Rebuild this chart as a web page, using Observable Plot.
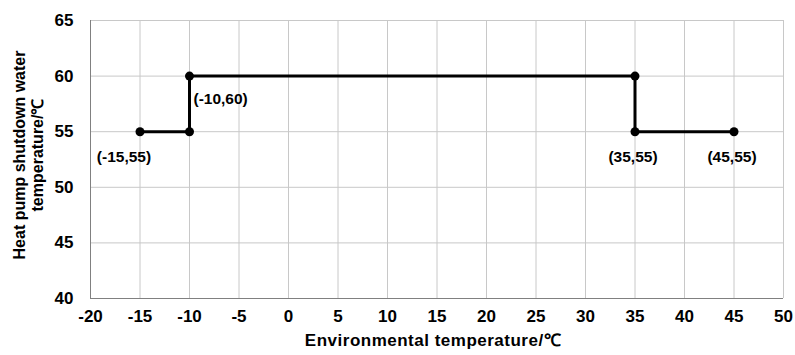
<!DOCTYPE html>
<html><head><meta charset="utf-8">
<script src="https://cdn.jsdelivr.net/npm/d3@7"></script>
<script src="https://cdn.jsdelivr.net/npm/@observablehq/plot@0.6"></script>
<style>
body{margin:0;background:#fff;}
#chart{width:795px;height:355px;}
svg{font-family:"Liberation Sans",Arial,sans-serif;}
</style></head>
<body><div id="chart"></div>
<script>
const envTemp = [-15, -10, -10, 35, 35, 45];
const shutdownTemp = [55, 55, 60, 60, 55, 55];
const labelPoints = ["(-15,55)", "(-10,60)", "(35,55)", "(45,55)"];
const labelX = [-15, -10, 35, 45];
const labelY = [55, 60, 55, 55];
const xTicks = [-20, -15, -10, -5, 0, 5, 10, 15, 20, 25, 30, 35, 40, 45, 50];
const yTicks = [40, 45, 50, 55, 60, 65];

const line = envTemp.map((x, i) => ({x, y: shutdownTemp[i]}));
const labels = labelPoints.map((t, i) => ({t, x: labelX[i], y: labelY[i]}));
const firstLabel = labels.filter(d => d.x === -15);
const topLabel = labels.filter(d => d.x === -10);
const rightLabels = labels.filter(d => d.x > 0);
const fmt = d => String(d);

const chart = Plot.plot({
  width: 795, height: 355,
  marginLeft: 90, marginRight: 12, marginTop: 20, marginBottom: 57,
  x: {domain: [-20, 50], label: null},
  y: {domain: [40, 65], label: null},
  style: {fontFamily: "Liberation Sans, Arial, sans-serif", color: "#000", background: "#fff"},
  marks: [
    Plot.ruleX(xTicks, {stroke: "#c8c8c8", strokeWidth: 1}),
    Plot.ruleY(yTicks, {stroke: "#c8c8c8", strokeWidth: 1}),
    Plot.ruleX([-20], {stroke: "#808080", strokeWidth: 1}),
    Plot.ruleY([40], {stroke: "#808080", strokeWidth: 1}),
    Plot.axisX({ticks: xTicks, tickFormat: fmt, tickSize: 0, tickPadding: 11, fontSize: 17, fontWeight: "bold", label: null}),
    Plot.axisY({ticks: yTicks, tickFormat: fmt, tickSize: 0, tickPadding: 17, fontSize: 17, fontWeight: "bold", label: null}),
    Plot.line(line, {x: "x", y: "y", stroke: "#000", strokeWidth: 3}),
    Plot.dot(line, {x: "x", y: "y", fill: "#000", r: 4.5}),
    Plot.text(firstLabel, {x: "x", y: "y", text: "t", dy: 25, dx: -16, fontSize: 15.5, fontWeight: "bold", fill: "#000"}),
    Plot.text(rightLabels, {x: "x", y: "y", text: "t", dy: 25, dx: -2, fontSize: 15.5, fontWeight: "bold", fill: "#000"}),
    Plot.text(topLabel, {x: "x", y: "y", text: "t", dy: 23, dx: 4, textAnchor: "start", fontSize: 15.5, fontWeight: "bold", fill: "#000"})
  ]
});
// axis titles
const svg = d3.select(chart);
svg.append("text").attr("x", 433).attr("y", 346).attr("text-anchor", "middle")
  .attr("font-size", 17).attr("font-weight", "bold").attr("letter-spacing", 0.5).text("Environmental temperature/℃");
const yt = svg.append("text").attr("transform", "translate(0,155) rotate(-90)").attr("text-anchor", "middle")
  .attr("font-size", 16).attr("font-weight", "bold");
yt.append("tspan").attr("x", 0).attr("y", 25).text("Heat pump shutdown water");
yt.append("tspan").attr("x", 0).attr("y", 43).text("temperature/℃");
document.getElementById("chart").appendChild(chart);
</script></body></html>
